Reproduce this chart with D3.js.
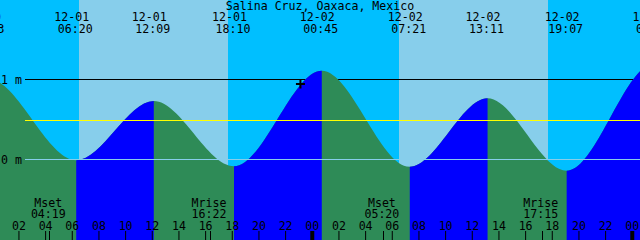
<!DOCTYPE html>
<html>
<head>
<meta charset="utf-8">
<script src="https://cdn.jsdelivr.net/npm/d3@7"></script>
<style>
  body { margin: 0; background: #00bfff; }
  svg { display: block; }
  text { font-family: "DejaVu Sans Mono", monospace; font-size: 11.6px; fill: #000; }
</style>
</head>
<body>
<svg id="chart" width="640" height="240"></svg>
<script>
// Station and time window of the graph.
const title = "Salina Cruz, Oaxaca, Mexico";
const chartStart = "2025-12-01 00:37";
const chartEnd = "2025-12-03 00:37";

// High / low tides. First and last are off-chart estimates, only there
// so the curve keeps a flat top/bottom at the visible extremes.
const tideTimes = ["2025-11-30 17:20", "2025-11-30 23:43", "2025-12-01 06:20",
                   "2025-12-01 12:09", "2025-12-01 18:10", "2025-12-02 00:45",
                   "2025-12-02 07:21", "2025-12-02 13:11", "2025-12-02 19:07",
                   "2025-12-03 01:42", "2025-12-03 08:15"];
const tideHeights = [-0.05, 1.01, -0.01, 0.73, -0.085, 1.11, -0.09, 0.765, -0.14, 1.20, -0.12];

// Daylight.
const sunriseTimes = ["2025-12-01 06:32", "2025-12-02 06:32"];
const sunsetTimes = ["2025-12-01 17:43", "2025-12-02 17:43"];

// Moon events.
const moonTimes = ["2025-12-01 04:19", "2025-12-01 16:22", "2025-12-02 05:20", "2025-12-02 17:15"];
const moonEvents = ["Mset", "Mrise", "Mset", "Mrise"];

// Depth marks and mean level.
const depthMarks = [1, 0];
const depthLabels = ["1 m", "0 m"];
const meanLevel = 0.4875;

// Current time marker.
const nowTime = "2025-12-01 23:09";
const nowHeight = 0.944;

const W = 640, H = 240;
const nightColor = "#00bfff";
const dayColor = "#87ceeb";
const ebbColor = "#2e8b57";
const floodColor = "#0000ff";

const parse = d3.timeParse("%Y-%m-%d %H:%M");
const fmtDate = d3.timeFormat("%m-%d");
const fmtTime = d3.timeFormat("%H:%M");

const x = d3.scaleTime()
  .domain([parse(chartStart), parse(chartEnd)])
  .range([0, W]);
const y = d3.scaleLinear()
  .domain([0, 1])
  .range([159.5, 79.5]);

const svg = d3.select("#chart");

// Sky: night everywhere, then daytime bands.
svg.append("rect")
  .attr("width", W).attr("height", H)
  .attr("fill", nightColor);

svg.selectAll("rect.day")
  .data(sunriseTimes.map((d, i) => [parse(d), parse(sunsetTimes[i])]))
  .enter().append("rect")
  .attr("class", "day")
  .attr("x", d => x(d[0]))
  .attr("width", d => x(d[1]) - x(d[0]))
  .attr("y", 0).attr("height", H)
  .attr("fill", dayColor)
  .attr("shape-rendering", "crispEdges");

// 1 m line sits behind the water.
svg.append("line")
  .attr("x1", 25).attr("x2", W)
  .attr("y1", y(depthMarks[0])).attr("y2", y(depthMarks[0]))
  .attr("stroke", "#000");

// Water under the tide curve.
const tides = tideTimes.map((d, i) => ({ t: parse(d), h: tideHeights[i] }));

const area = d3.area()
  .x(d => x(d.t))
  .y0(H)
  .y1(d => y(d.h))
  .curve(d3.curveMonotoneX);

// Rising stretches get the flood colour.
const rising = [];
for (let i = 0; i < tides.length - 1; i++) {
  if (tides[i + 1].h > tides[i].h) rising.push([tides[i].t, tides[i + 1].t]);
}

svg.append("clipPath")
  .attr("id", "flood-clip")
  .selectAll("rect")
  .data(rising).enter()
  .append("rect")
  .attr("x", d => x(d[0]))
  .attr("width", d => x(d[1]) - x(d[0]))
  .attr("y", 0).attr("height", H);

svg.append("path")
  .datum(tides)
  .attr("d", area)
  .attr("fill", ebbColor);

svg.append("path")
  .datum(tides)
  .attr("d", area)
  .attr("fill", floodColor)
  .attr("clip-path", "url(#flood-clip)");

// 0 m datum line and mean level, drawn over the water.
svg.append("line")
  .attr("x1", 25).attr("x2", W)
  .attr("y1", y(depthMarks[1])).attr("y2", y(depthMarks[1]))
  .attr("stroke", dayColor);

svg.append("line")
  .attr("x1", 25).attr("x2", W)
  .attr("y1", y(meanLevel)).attr("y2", y(meanLevel))
  .attr("stroke", "#ffff00");

// Depth labels.
svg.selectAll("text.depth")
  .data(depthMarks)
  .enter().append("text")
  .attr("class", "depth")
  .attr("x", 1)
  .attr("y", d => y(d) + 4)
  .text((d, i) => depthLabels[i]);

// Title.
svg.append("text")
  .attr("x", W / 2)
  .attr("y", 9.5)
  .attr("text-anchor", "middle")
  .text(title);

// Tide time labels along the top.
const tideLabels = svg.selectAll("g.tide")
  .data(tides)
  .enter().append("g")
  .attr("class", "tide")
  .attr("text-anchor", "middle");

tideLabels.append("text")
  .attr("x", d => x(d.t) - 4.5)
  .attr("y", 21)
  .text(d => fmtDate(d.t));

tideLabels.append("text")
  .attr("x", d => x(d.t) - 1)
  .attr("y", 33)
  .text(d => fmtTime(d.t));

// Hour axis at the bottom, labels above the ticks.
const axis = d3.axisTop(x)
  .ticks(d3.timeHour.every(2))
  .tickFormat(d3.timeFormat("%H"))
  .tickSize(9)
  .tickPadding(1.5);

const axisG = svg.append("g")
  .attr("transform", `translate(0,${H})`)
  .call(axis);
axisG.select(".domain").remove();
axisG.selectAll(".tick line")
  .attr("stroke", "#000")
  .attr("stroke-width", d => d.getHours() === 0 ? 4 : 1);

// Moon events: small tick plus label.
const moon = moonTimes.map((d, i) => ({ t: parse(d), name: moonEvents[i] }));

svg.selectAll("line.moon")
  .data(moon)
  .enter().append("line")
  .attr("class", "moon")
  .attr("x1", d => Math.round(x(d.t)) + 0.5)
  .attr("x2", d => Math.round(x(d.t)) + 0.5)
  .attr("y1", H - 9).attr("y2", H)
  .attr("stroke", "#000");

const moonLabels = svg.selectAll("g.moonlab")
  .data(moon)
  .enter().append("g")
  .attr("class", "moonlab")
  .attr("text-anchor", "middle");

moonLabels.append("text")
  .attr("x", d => x(d.t) - 1)
  .attr("y", 207)
  .text(d => d.name);

moonLabels.append("text")
  .attr("x", d => x(d.t) - 1)
  .attr("y", 218)
  .text(d => fmtTime(d.t));

// "Now" cross on the curve.
const nx = x(parse(nowTime));
const ny = y(nowHeight);
svg.append("path")
  .attr("d", `M${nx - 4.5},${ny}H${nx + 4.5}M${nx},${ny - 4.5}V${ny + 4.5}`)
  .attr("stroke", "#000")
  .attr("stroke-width", 2);
</script>
</body>
</html>
